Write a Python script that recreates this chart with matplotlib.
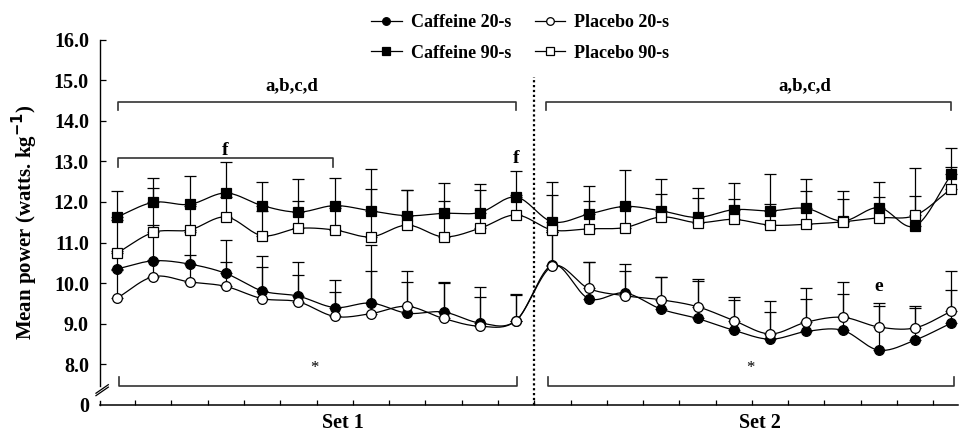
import numpy as np
import matplotlib
matplotlib.use("Agg")
import matplotlib.pyplot as plt
from matplotlib.transforms import blended_transform_factory
from matplotlib.lines import Line2D

plt.rcParams['font.family'] = ['Liberation Serif', 'DejaVu Serif']
plt.rcParams['font.weight'] = 'bold'

# 12 sprints in set 1, 12 sprints in set 2
x = np.arange(24)

caf20 = [10.35, 10.55, 10.47, 10.24, 9.81, 9.68, 9.40, 9.51, 9.26, 9.29, 9.02, 9.08,
         10.45, 9.62, 9.76, 9.36, 9.13, 8.84, 8.62, 8.81, 8.84, 8.35, 8.60, 9.02]
pla20 = [9.63, 10.16, 10.03, 9.92, 9.62, 9.54, 9.18, 9.25, 9.43, 9.13, 8.94, 9.08,
         10.42, 9.87, 9.69, 9.59, 9.42, 9.08, 8.75, 9.04, 9.16, 8.92, 8.90, 9.31]
caf90 = [11.63, 11.99, 11.94, 12.22, 11.91, 11.75, 11.91, 11.78, 11.66, 11.72, 11.74, 12.12,
         11.51, 11.70, 11.89, 11.78, 11.62, 11.81, 11.78, 11.84, 11.53, 11.86, 11.41, 12.68]
pla90 = [10.74, 11.25, 11.31, 11.63, 11.17, 11.35, 11.31, 11.14, 11.43, 11.14, 11.35, 11.68,
         11.31, 11.34, 11.37, 11.63, 11.49, 11.57, 11.43, 11.45, 11.51, 11.61, 11.67, 12.33]

caf20_sd = [0.45, 0.88, 0.80, 0.82, 0.87, 0.83, 0.67, 1.44, 1.04, 0.75, 0.88, 0.66,
            0.80, 0.90, 0.71, 0.79, 0.97, 0.83, 0.93, 1.06, 0.89, 1.16, 0.83, 0.80]
pla20_sd = [0.70, 0.40, 0.67, 0.61, 0.78, 0.65, 0.60, 1.04, 0.61, 0.88, 0.72, 0.64,
            0.85, 0.64, 0.61, 0.55, 0.63, 0.50, 0.53, 0.57, 0.88, 0.51, 0.50, 1.00]
caf90_sd = [0.65, 0.61, 0.69, 0.76, 0.58, 0.82, 0.69, 1.03, 0.64, 0.74, 0.69, 0.65,
            0.98, 0.70, 0.89, 0.79, 0.73, 0.66, 0.90, 0.73, 0.73, 0.63, 0.73, 0.65]
pla90_sd = [0.82, 1.10, 0.60, 0.50, 0.60, 0.68, 0.55, 1.17, 0.87, 0.88, 0.94, 0.50,
            0.86, 0.68, 0.50, 0.57, 0.61, 0.51, 0.53, 0.82, 0.57, 0.50, 1.17, 0.54]

ytick_vals = [7, 8, 9, 10, 11, 12, 13, 14, 15, 16]
ytick_labels = ['0', '8.0', '9.0', '10.0', '11.0', '12.0', '13.0', '14.0', '15.0', '16.0']


def smooth(xs, ys, n=20):
    # catmull-rom curve through the points (like excel smoothed lines)
    xs = np.asarray(xs, float)
    ys = np.asarray(ys, float)
    m = np.zeros_like(ys)
    m[1:-1] = (ys[2:] - ys[:-2]) / 2
    m[0] = ys[1] - ys[0]
    m[-1] = ys[-1] - ys[-2]
    ox, oy = [], []
    for i in range(len(xs) - 1):
        t = np.linspace(0, 1, n, endpoint=False)
        h00 = 2*t**3 - 3*t**2 + 1
        h10 = t**3 - 2*t**2 + t
        h01 = -2*t**3 + 3*t**2
        h11 = t**3 - t**2
        ox.append(xs[i] + t * (xs[i+1] - xs[i]))
        oy.append(h00*ys[i] + h10*m[i] + h01*ys[i+1] + h11*m[i+1])
    ox.append([xs[-1]])
    oy.append([ys[-1]])
    return np.concatenate(ox), np.concatenate(oy)


fig = plt.figure(figsize=(9.6, 4.33), dpi=100)
ax = fig.add_axes([100/960, 28/433, 858/960, 365.5/433])

series = [
    (caf20, caf20_sd, 'o', 'black', 'Caffeine 20-s', 7.0),
    (caf90, caf90_sd, 's', 'black', 'Caffeine 90-s', 7.2),
    (pla20, pla20_sd, 'o', 'white', 'Placebo 20-s', 7.0),
    (pla90, pla90_sd, 's', 'white', 'Placebo 90-s', 7.0),
]

handles = []
for vals, sd, mk, fc, lab, ms in series:
    sx, sy = smooth(x, vals)
    ax.plot(sx, sy, color='black', lw=0.9, zorder=2)
    ax.errorbar(x, vals, yerr=[np.zeros(len(sd)), sd], fmt='none', ecolor='black',
                elinewidth=0.9, capsize=4, capthick=0.9, zorder=1)
    ax.plot(x, vals, linestyle='none', marker=mk, ms=ms, mfc=fc, mec='black', mew=0.9, zorder=3)
    handles.append(Line2D([], [], color='black', lw=0.9, marker=mk, ms=5.5, mfc=fc,
                          mec='black', mew=0.9, label=lab))

ax.set_xlim(-0.469, 23.18)
ax.set_ylim(7, 16)
ax.set_yticks(ytick_vals)
ax.set_yticklabels(ytick_labels, fontsize=14.5, fontweight='bold')
ax.set_xticks(np.arange(0.5, 23, 1))
ax.set_xticklabels([])
ax.tick_params(axis='both', direction='in', width=0.9)
ax.tick_params(axis='y', length=4.5, pad=8)
ax.tick_params(axis='x', length=3.5)
for s in ['top', 'right']:
    ax.spines[s].set_visible(False)
ax.spines['bottom'].set_linewidth(1.1)
ax.spines['left'].set_linewidth(1.0)
ax.spines['left'].set_bounds(7.46, 16)
# axis break
ax.plot([-0.469, -0.469], [7, 7.09], color='black', lw=1.0, clip_on=False)
ax.plot([-0.58, -0.24], [7.23, 7.44], color='black', lw=0.9, clip_on=False)
ax.plot([-0.58, -0.24], [7.29, 7.50], color='black', lw=0.9, clip_on=False)
ax.get_yticklines()[0].set_visible(False)

ax.set_ylabel('Mean power (watts. kg$^{\\mathbf{-1}}$)', fontsize=15, fontweight='bold', labelpad=10)

# vertical dotted separator
ax.plot([11.5, 11.5], [7, 15.08], color='black', lw=1.6, linestyle=(0, (1, 1.2)))

bc = '#333333'
def bracket(x0, x1, y, yend):
    ax.plot([x0, x0, x1, x1], [yend, y, y, yend], color=bc, lw=1.2)

bracket(0.02, 11.0, 14.47, 14.26)
bracket(11.82, 23.0, 14.47, 14.26)
bracket(0.02, 5.95, 13.09, 12.86)
bracket(0.05, 11.02, 7.46, 7.70)
bracket(11.88, 23.07, 7.46, 7.70)

ax.text(4.82, 14.85, 'a,b,c,d', ha='center', va='center', fontsize=13.5, fontweight='bold')
ax.text(18.96, 14.85, 'a,b,c,d', ha='center', va='center', fontsize=13.5, fontweight='bold')
ax.text(2.98, 13.27, 'f', ha='center', va='center', fontsize=14, fontweight='bold')
ax.text(11.0, 13.08, 'f', ha='center', va='center', fontsize=14, fontweight='bold')
ax.text(21.0, 9.93, 'e', ha='center', va='center', fontsize=14, fontweight='bold')
ax.text(5.45, 7.9, '*', ha='center', va='center', fontsize=12, fontweight='normal')
ax.text(17.47, 7.9, '*', ha='center', va='center', fontsize=12, fontweight='normal')

tr = blended_transform_factory(ax.transData, fig.transFigure)
ax.text(6.23, 10/433, 'Set 1', transform=tr, ha='center', va='center', fontsize=14.5, fontweight='bold')
ax.text(17.72, 10/433, 'Set 2', transform=tr, ha='center', va='center', fontsize=14.5, fontweight='bold')

fig.legend(handles=handles, loc='upper center', bbox_to_anchor=(0.542, 1.005), ncol=2,
           frameon=False, handlelength=1.7, handletextpad=0.5,
           columnspacing=1.3, labelspacing=0.75, prop={'weight': 'bold', 'size': 13})

fig.savefig('out.png', dpi=100)
